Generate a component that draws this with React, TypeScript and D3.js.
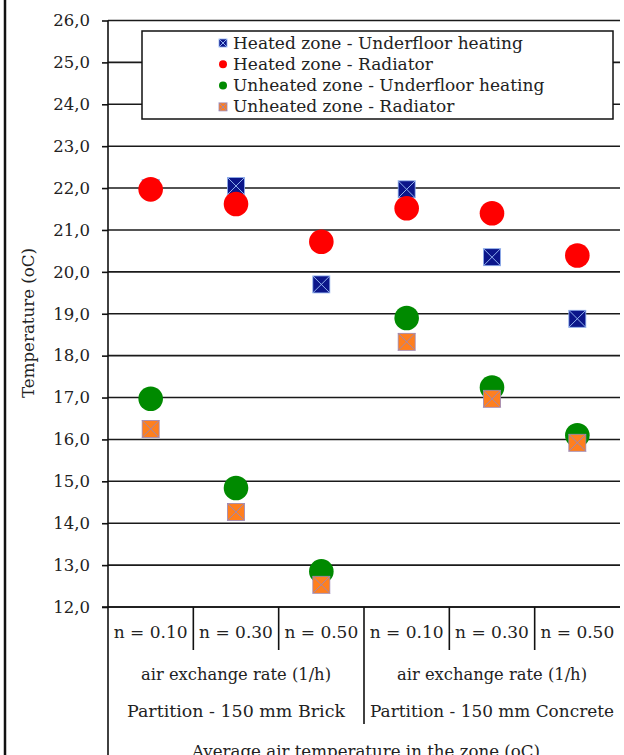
import * as d3 from "d3";
import { useEffect, useRef } from "react";

// data
const categories = ["n = 0.10", "n = 0.30", "n = 0.50", "n = 0.10", "n = 0.30", "n = 0.50"];
const groupNames = ["Partition - 150 mm Brick", "Partition - 150 mm Concrete"];
const rateLabel = "air exchange rate (1/h)";
const heatedUnderfloor = [22.0, 22.05, 19.7, 21.97, 20.35, 18.88];
const heatedRadiator = [21.97, 21.62, 20.72, 21.52, 21.4, 20.39];
const unheatedUnderfloor = [16.97, 14.84, 12.85, 18.9, 17.24, 16.1];
const unheatedRadiator = [16.25, 14.27, 12.53, 18.33, 16.97, 15.92];
const yTicks = d3.range(12, 26.5, 1);

const series = [
    { name: "Heated zone - Underfloor heating", values: heatedUnderfloor, shape: "square", fill: "#0b168a", cross: "#8fb0ee" },
    { name: "Heated zone - Radiator", values: heatedRadiator, shape: "circle", fill: "#ff0000" },
    { name: "Unheated zone - Underfloor heating", values: unheatedUnderfloor, shape: "circle", fill: "#008a00" },
    { name: "Unheated zone - Radiator", values: unheatedRadiator, shape: "square", fill: "#ff7f1e", cross: "#9a88b8" }
];

const FONT = "'DejaVu Serif', serif";

const Chart = () => {
    const ref = useRef<SVGSVGElement>(null);

    useEffect(() => {
        const width = 624, height = 755;
        const left = 108, right = 620, top = 20.5, bottom = 607;

        const svg = d3.select(ref.current);
        svg.selectAll("*").remove();
        svg.attr("width", width).attr("height", height);

        svg.append("rect").attr("width", width).attr("height", height).attr("fill", "white");

        const x = d3.scaleBand<number>().domain(d3.range(categories.length)).range([left, right]);
        const y = d3.scaleLinear().domain([12, 26]).range([bottom, top]);
        const fmt = (v: number) => d3.format(".1f")(v).replace(".", ",");

        // outer frame line on the left
        svg.append("line")
            .attr("x1", 5).attr("x2", 5).attr("y1", 0).attr("y2", height)
            .attr("stroke", "#111").attr("stroke-width", 2.5);

        // gridlines
        svg.append("g")
            .selectAll("line")
            .data(yTicks)
            .enter()
            .append("line")
            .attr("x1", left).attr("x2", right)
            .attr("y1", d => y(d)).attr("y2", d => y(d))
            .attr("stroke", "#1a1a1a").attr("stroke-width", 1.6);

        // y axis
        const yAxis = svg.append("g")
            .attr("transform", `translate(${left},0)`)
            .call(d3.axisLeft(y).tickValues(yTicks).tickFormat(d => fmt(+d)).tickSize(6).tickPadding(12));
        yAxis.select(".domain").attr("stroke", "#111").attr("stroke-width", 1.6).attr("d", `M0,${top}V${height}`);
        yAxis.selectAll(".tick line").attr("stroke", "#111").attr("stroke-width", 1.6);
        yAxis.selectAll(".tick text")
            .attr("font-family", FONT).attr("font-size", 16.5).attr("fill", "#222");

        svg.append("text")
            .attr("transform", `translate(34,323) rotate(-90)`)
            .attr("text-anchor", "middle")
            .attr("font-family", FONT).attr("font-size", 16).attr("fill", "#222")
            .attr("textLength", 150).attr("lengthAdjust", "spacingAndGlyphs")
            .text("Temperature (oC)");

        // category table below the plot
        const table = svg.append("g");
        table.append("line")
            .attr("x1", left - 6).attr("x2", right).attr("y1", bottom).attr("y2", bottom)
            .attr("stroke", "#111").attr("stroke-width", 1.6);
        categories.forEach((c, i) => {
            const x0 = x(i)!;
            if (i > 0) {
                table.append("line")
                    .attr("x1", x0).attr("x2", x0)
                    .attr("y1", bottom).attr("y2", i === 3 ? 724 : 650)
                    .attr("stroke", "#111").attr("stroke-width", 1.6);
            }
            table.append("text")
                .attr("x", x0 + x.bandwidth() / 2).attr("y", bottom + 31)
                .attr("text-anchor", "middle")
                .attr("font-family", FONT).attr("font-size", 17).attr("fill", "#222")
                .text(c);
        });
        groupNames.forEach((g, gi) => {
            const cx = (x(gi * 3)! + x(gi * 3 + 2)! + x.bandwidth()) / 2;
            table.append("text")
                .attr("x", cx).attr("y", 680)
                .attr("text-anchor", "middle")
                .attr("font-family", FONT).attr("font-size", 17).attr("fill", "#222")
                .attr("textLength", 190).attr("lengthAdjust", "spacingAndGlyphs")
                .text(rateLabel);
            table.append("text")
                .attr("x", cx).attr("y", 717)
                .attr("text-anchor", "middle")
                .attr("font-family", FONT).attr("font-size", 17).attr("fill", "#222")
                .attr("textLength", gi === 0 ? 218 : 244).attr("lengthAdjust", "spacingAndGlyphs")
                .text(g);
        });
        table.append("text")
            .attr("x", (left + right) / 2 + 2).attr("y", 757)
            .attr("text-anchor", "middle")
            .attr("font-family", FONT).attr("font-size", 17).attr("fill", "#222")
            .attr("textLength", 348).attr("lengthAdjust", "spacingAndGlyphs")
            .text("Average air temperature in the zone (oC)");

        // markers
        const drawMarker = (g: any, s: any, cx: number, cy: number, size: number, r: number) => {
            if (s.shape === "circle") {
                g.append("circle")
                    .attr("cx", cx).attr("cy", cy).attr("r", r)
                    .attr("fill", s.fill);
            } else {
                const h = size / 2;
                g.append("rect")
                    .attr("x", cx - h).attr("y", cy - h).attr("width", size).attr("height", size)
                    .attr("fill", s.fill).attr("stroke", s.cross).attr("stroke-width", 0.8);
                g.append("path")
                    .attr("d", `M${cx - h},${cy - h}L${cx + h},${cy + h}M${cx + h},${cy - h}L${cx - h},${cy + h}`)
                    .attr("stroke", s.cross).attr("stroke-width", 1);
            }
        };

        const marks = svg.append("g");
        series.forEach(s => {
            s.values.forEach((v, i) => {
                drawMarker(marks, s, x(i)! + x.bandwidth() / 2, y(v), 17, 12.3);
            });
        });

        // legend
        const legend = svg.append("g");
        legend.append("rect")
            .attr("x", 142).attr("y", 31).attr("width", 471).attr("height", 88)
            .attr("fill", "white").attr("stroke", "#111").attr("stroke-width", 1.5);
        series.forEach((s, i) => {
            const ly = 43 + i * 21.3;
            drawMarker(legend, s, 223, ly, 8, 4);
            legend.append("text")
                .attr("x", 233).attr("y", ly + 5.5)
                .attr("font-family", FONT).attr("font-size", 17).attr("fill", "#222")
                .text(s.name);
        });
    }, []);

    return <svg ref={ref} style={{ position: "absolute", left: 0, top: 0 }}></svg>;
};

export default function App() {
    return <Chart />;
}
